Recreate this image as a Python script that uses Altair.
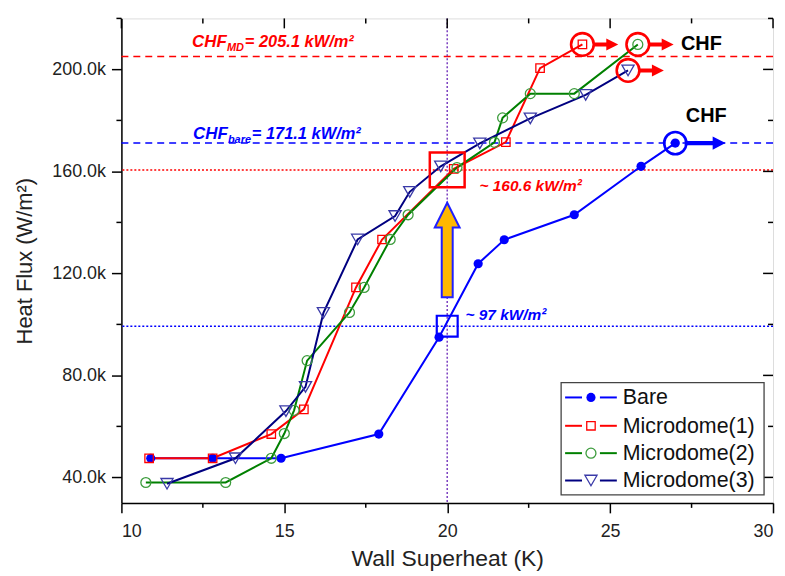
import altair as alt
import pandas as pd

# ---------------- data ----------------
series_names = ["Bare", "Microdome(1)", "Microdome(2)", "Microdome(3)"]
line_colors = ["#0000FF", "#FF0000", "#008000", "#000080"]
marker_strokes = ["#0000FF", "#FF0000", "#3C9C3C", "#3A3AA8"]
marker_shapes = ["circle", "square", "circle", "triangle-down"]
marker_filled = [True, False, False, False]
marker_sizes = [85, 72, 100, 150]

# Wall superheat (K) / heat flux (kW/m2)
bare_x = [10.9, 12.8, 14.9, 17.9, 19.75, 20.95, 21.75, 23.9, 25.95, 27.0]
bare_y = [47.5, 47.5, 47.5, 57.0, 95.0, 123.8, 133.2, 143.0, 162.0, 171.1]

m1_x = [10.85, 12.8, 14.6, 15.6, 17.2, 18.0, 20.2, 21.8, 22.85, 24.15]
m1_y = [47.5, 47.5, 57.0, 66.7, 114.5, 133.3, 161.0, 171.5, 200.5, 209.8]

m2_x = [10.75, 13.2, 14.6, 15.0, 15.3, 15.7, 17.0, 17.45, 18.25, 18.8, 20.3, 21.45, 21.7, 22.55, 23.9, 25.85]
m2_y = [38.0, 38.0, 47.5, 57.2, 66.3, 85.8, 104.7, 114.5, 133.3, 143.0, 161.5, 171.4, 181.0, 190.5, 190.5, 209.8]

m3_x = [11.4, 13.5, 15.05, 15.65, 16.2, 17.25, 18.4, 18.85, 19.8, 21.0, 22.55, 24.25, 25.55]
m3_y = [37.5, 47.5, 66.0, 75.5, 104.5, 133.3, 142.5, 152.0, 162.0, 171.0, 180.8, 190.0, 199.6]

series_x = [bare_x, m1_x, m2_x, m3_x]
series_y = [bare_y, m1_y, m2_y, m3_y]

# reference levels (kW/m2)
chf_md = 205.1
chf_bare = 171.1
level_md_20k = 160.6
level_bare_20k = 99.3
ref_superheat = 20.0

# CHF marker points (x, kW/m2)
chf_red_x = [24.15, 25.85, 25.55]
chf_red_y = [209.8, 209.8, 199.6]
chf_blue_x = [27.0]
chf_blue_y = [171.1]

# axis ticks
x_major = [10, 15, 20, 25, 30]
x_minor = [12.5, 17.5, 22.5, 27.5]
y_major = [40, 80, 120, 160, 200]
y_minor = [60, 100, 140, 180, 220]

# ---------------- layout ----------------
W, H = 655, 487
FONT = "Liberation Sans"
xs = alt.Scale(domain=[10, 30], nice=False, zero=False)
ys = alt.Scale(domain=[30000, 220000], nice=False, zero=False)

x_axis = alt.Axis(values=x_major, format="d", title="Wall Superheat (K)", grid=False,
                  labelFontSize=18, titleFontSize=23, titleFontWeight="normal",
                  tickSize=10, tickWidth=1.5, tickColor="black", domainColor="black",
                  domainWidth=1.5, labelColor="#222", titleColor="#222", labelPadding=10,
                  titlePadding=7, labelFont=FONT, titleFont=FONT)
y_axis = alt.Axis(values=[v * 1000 for v in y_major],
                  labelExpr="format(datum.value/1000, '.1f') + 'k'",
                  title="Heat Flux (W/m²)", grid=False,
                  labelFontSize=18, titleFontSize=22, titleFontWeight="normal",
                  tickSize=10, tickWidth=1.5, tickColor="black", domainColor="black",
                  domainWidth=1.5, labelColor="#222", titleColor="#222", labelPadding=6,
                  titlePadding=15, labelFont=FONT, titleFont=FONT)


def X(f="x"):
    return alt.X(f"{f}:Q", scale=xs, axis=x_axis)


def Y(f="y"):
    return alt.Y(f"{f}:Q", scale=ys, axis=y_axis)


def pts(xv, yv):
    return pd.DataFrame({"x": xv, "y": [v * 1000 for v in yv]})


layers = []

# reference lines
layers.append(alt.Chart(pts([0], [chf_md])).mark_rule(color="#FF0000", strokeWidth=1.5, strokeDash=[7, 5]).encode(y=Y()))
layers.append(alt.Chart(pts([0], [chf_bare])).mark_rule(color="#0000FF", strokeWidth=1.5, strokeDash=[7, 5]).encode(y=Y()))
layers.append(alt.Chart(pts([0], [level_md_20k])).mark_rule(color="#FF0000", strokeWidth=1.5, strokeDash=[2, 2]).encode(y=Y()))
layers.append(alt.Chart(pts([0], [level_bare_20k])).mark_rule(color="#0000FF", strokeWidth=1.5, strokeDash=[2, 2]).encode(y=Y()))
layers.append(alt.Chart(pts([ref_superheat], [0])).mark_rule(color="#7B3FBF", strokeWidth=1.5, strokeDash=[2, 2]).encode(x=X()))

# data lines
for i in range(4):
    df = pts(series_x[i], series_y[i])
    df["o"] = range(len(df))
    layers.append(alt.Chart(df).mark_line(color=line_colors[i], strokeWidth=2).encode(x=X(), y=Y(), order="o:Q"))

# data markers
for i in range(4):
    df = pts(series_x[i], series_y[i])
    if marker_filled[i]:
        m = alt.Chart(df).mark_point(shape=marker_shapes[i], size=marker_sizes[i], filled=True,
                                     color=marker_strokes[i], opacity=1)
    else:
        m = alt.Chart(df).mark_point(shape=marker_shapes[i], size=marker_sizes[i], filled=False,
                                     color=marker_strokes[i], strokeWidth=1.3, opacity=1)
    layers.append(m.encode(x=X(), y=Y()))

# annotation squares at 20 K
layers.append(alt.Chart(pts([ref_superheat], [level_md_20k])).mark_point(
    shape="square", size=1225, filled=False, color="#FF0000", strokeWidth=2.5, opacity=1).encode(x=X(), y=Y()))
layers.append(alt.Chart(pts([ref_superheat], [level_bare_20k])).mark_point(
    shape="square", size=441, filled=False, color="#0000FF", strokeWidth=2.2, opacity=1).encode(x=X(), y=Y()))

# orange up arrow
up_arrow = "M0,-1 L0.263,-0.474 L0.116,-0.474 L0.116,1 L-0.116,1 L-0.116,-0.474 L-0.263,-0.474 Z"
layers.append(alt.Chart(pts([ref_superheat], [129.2])).mark_point(
    shape=up_arrow, size=9025, fill="#FFB800", fillOpacity=1, stroke="#1F1FFF", strokeWidth=2, opacity=1).encode(x=X(), y=Y()))

# CHF circles and arrows
red_arrow = "M-1,-0.17 L0,-0.17 L0,-0.5 L1,0 L0,0.5 L0,0.17 L-1,0.17 Z"
blue_arrow = "M-1,-0.1 L0.37,-0.1 L0.37,-0.32 L1,0 L0.37,0.32 L0.37,0.1 L-1,0.1 Z"
layers.append(alt.Chart(pts(chf_red_x, chf_red_y)).mark_point(
    shape="circle", size=520, filled=False, color="#FF0000", strokeWidth=2.6, opacity=1).encode(x=X(), y=Y()))
layers.append(alt.Chart(pts(chf_red_x, chf_red_y)).mark_point(
    shape=red_arrow, size=576, filled=True, color="#FF0000", opacity=1, xOffset=24).encode(x=X(), y=Y()))
layers.append(alt.Chart(pts(chf_blue_x, chf_blue_y)).mark_point(
    shape="circle", size=500, filled=False, color="#0000FF", strokeWidth=2.6, opacity=1).encode(x=X(), y=Y()))
layers.append(alt.Chart(pts(chf_blue_x, chf_blue_y)).mark_point(
    shape=blue_arrow, size=1681, filled=True, color="#0000FF", opacity=1, xOffset=30).encode(x=X(), y=Y()))


# texts
def text(xv, yv, s, color, size, align="left", dx=0, dy=0, style="italic", weight="bold", baseline="alphabetic"):
    df = pts([xv], [yv])
    return alt.Chart(df).mark_text(text=s, color=color, fontSize=size, align=align, dx=dx, dy=dy,
                                   fontStyle=style, fontWeight=weight, baseline=baseline,
                                   font=FONT).encode(x=X(), y=Y())


layers.append(text(12.17, 208.6, "CHF", "#FF0000", 17))
layers.append(text(12.17, 208.6, "MD", "#FF0000", 11, dx=35, dy=4))
layers.append(text(12.17, 208.6, "= 205.1 kW/m²", "#FF0000", 16.5, dx=53))
layers.append(text(12.2, 172.7, "CHF", "#0000FF", 17))
layers.append(text(12.2, 172.7, "bare", "#0000FF", 11, dx=35, dy=4))
layers.append(text(12.2, 172.7, "= 171.1 kW/m²", "#0000FF", 16.5, dx=59))
layers.append(text(20.99, 154.3, "~ 160.6 kW/m²", "#FF0000", 15.5, baseline="middle"))
layers.append(text(20.56, 103.6, "~ 97 kW/m²", "#0000FF", 15.5, baseline="middle"))
layers.append(text(27.8, 209.8, "CHF", "#000000", 20, align="center", style="normal", baseline="middle"))
layers.append(text(27.95, 181.7, "CHF", "#000000", 20, align="center", style="normal", baseline="middle"))

# frame ticks (inward on top/right, minor outward on bottom/left)
tick = dict(color="black", strokeWidth=1.5)
layers.append(alt.Chart(pts(x_major, [0] * len(x_major))).mark_rule(**tick).encode(x=X(), y=alt.value(0), y2=alt.value(10)))
layers.append(alt.Chart(pts(x_minor, [0] * len(x_minor))).mark_rule(**tick).encode(x=X(), y=alt.value(0), y2=alt.value(5)))
layers.append(alt.Chart(pts(x_minor, [0] * len(x_minor))).mark_rule(**tick).encode(x=X(), y=alt.value(H), y2=alt.value(H + 5)))
layers.append(alt.Chart(pts([0] * len(y_major), y_major)).mark_rule(**tick).encode(y=Y(), x=alt.value(W), x2=alt.value(W - 10)))
layers.append(alt.Chart(pts([0] * len(y_minor), y_minor)).mark_rule(**tick).encode(y=Y(), x=alt.value(W), x2=alt.value(W - 5)))
layers.append(alt.Chart(pts([0] * len(y_minor), y_minor)).mark_rule(**tick).encode(y=Y(), x=alt.value(0), x2=alt.value(-5)))

# legend (drawn manually: line - marker - line)
LX0, LX1, LY0, LY1 = 442, 646, 366, 479
row_y = [381, 409.5, 437, 464.5]
one = pd.DataFrame({"a": [0]})
layers.append(alt.Chart(one).mark_rect(fill="white", stroke="#444", strokeWidth=1.3).encode(
    x=alt.value(LX0), x2=alt.value(LX1), y=alt.value(LY0), y2=alt.value(LY1)))
for i, name in enumerate(series_names):
    ry = row_y[i]
    layers.append(alt.Chart(one).mark_rule(color=line_colors[i], strokeWidth=2).encode(
        x=alt.value(446), x2=alt.value(463), y=alt.value(ry)))
    layers.append(alt.Chart(one).mark_rule(color=line_colors[i], strokeWidth=2).encode(
        x=alt.value(481), x2=alt.value(498), y=alt.value(ry)))
    if marker_filled[i]:
        mk = alt.Chart(one).mark_point(shape=marker_shapes[i], size=marker_sizes[i], filled=True,
                                       color=marker_strokes[i], opacity=1)
    else:
        mk = alt.Chart(one).mark_point(shape=marker_shapes[i], size=marker_sizes[i], filled=False,
                                       color=marker_strokes[i], strokeWidth=1.3, opacity=1)
    layers.append(mk.encode(x=alt.value(472), y=alt.value(ry)))
    layers.append(alt.Chart(one).mark_text(text=name, align="left", baseline="middle", fontSize=21.5,
                                           font=FONT, color="#111").encode(x=alt.value(504), y=alt.value(ry + 1)))

chart = alt.layer(*layers).properties(
    width=W, height=H, autosize="none",
    padding={"left": 114, "top": 9, "right": 4, "bottom": 70},
).configure_view(stroke="black", strokeWidth=1.5).configure(font=FONT)

chart.save("out.html", embed_options={"renderer": "svg", "actions": False})
